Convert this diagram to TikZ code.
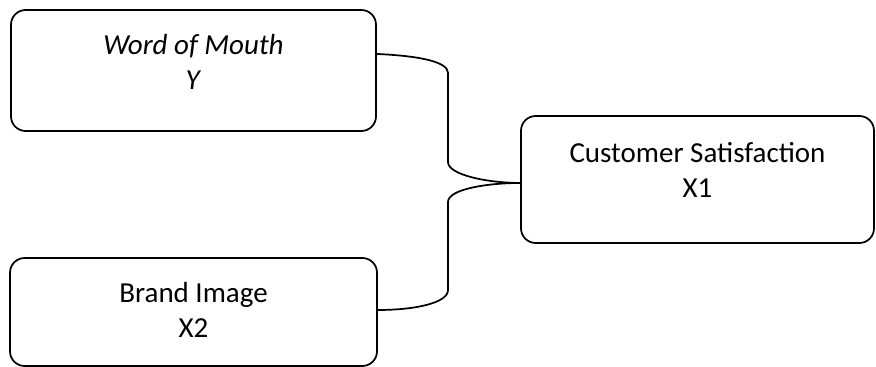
\documentclass[tikz,border=0pt]{standalone}
\usepackage{fontspec}
\setmainfont{Carlito}
\tikzset{
  varbox/.style={draw, line width=1.3pt, rounded corners=11pt, inner sep=0pt},
  vartext/.style={align=center, font=\fontsize{21.75}{26.25}\selectfont, inner sep=0pt},
  link/.style={line width=1.3pt}
}
\begin{document}
\begin{tikzpicture}[x=0.75pt,y=-0.75pt]
	\useasboundingbox (0,0) rectangle (876,367);

	% boxes
	\node[varbox, minimum width=273.75pt, minimum height=90.75pt] (wom) at (193.5,70.5) {};
	\node[varbox, minimum width=264.75pt, minimum height=95.25pt] (cs) at (697.5,179.5) {};
	\node[varbox, minimum width=275.25pt, minimum height=81pt] (bi) at (193.5,312) {};

	% labels
	\node[vartext, yshift=6.75pt] (wom-t) at (wom.center) {\textit{Word of Mouth}\\\textit{Y}};
	\node[vartext, yshift=7pt] (cs-t) at (cs.center) {Customer Satisfaction\\X1};
	\node[vartext, yshift=1.5pt] (bi-t) at (bi.center) {Brand Image\\X2};

	\coordinate (join) at ([yshift=-2.6pt]cs.west);

	\draw[link] ([yshift=12.4pt]wom.east) .. controls +(44,2) and +(0,-11) .. (448,73)
		-- (448,162) .. controls +(0,13) and +(-32,0) .. (join);
	\draw[link] (join) .. controls +(-32,0) and +(0,-13) .. (448,202)
		-- (448,290) .. controls +(0,13) and +(37,0) .. ([yshift=1.5pt]bi.east);

\end{tikzpicture}
\end{document}
